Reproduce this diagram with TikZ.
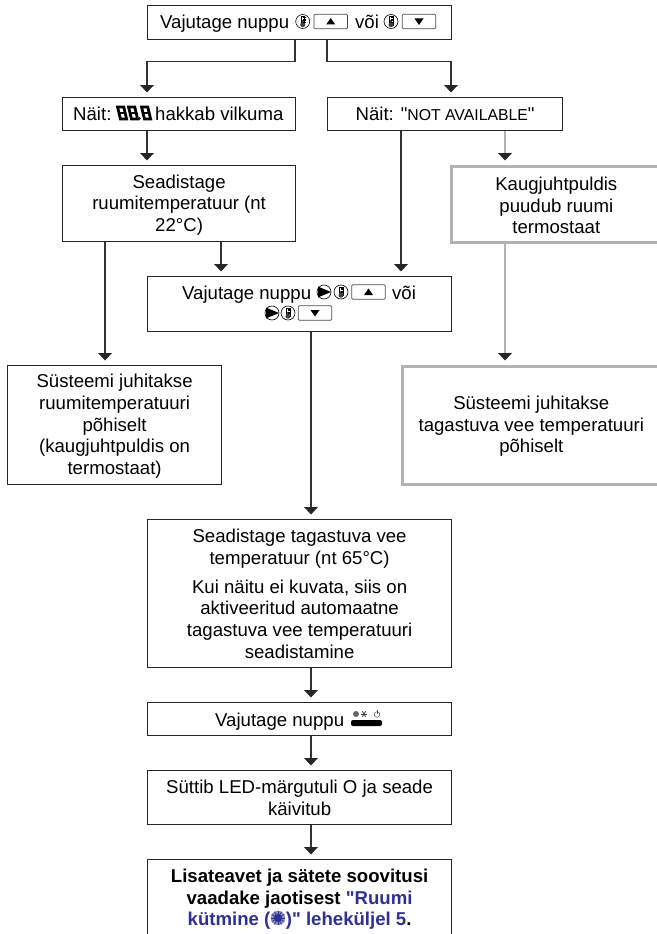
\documentclass[tikz,border=0pt]{standalone}
\usepackage{fontspec}
\setmainfont{Liberation Sans}[Ligatures=TeXOff]
\usetikzlibrary{calc,arrows.meta}
\definecolor{linkblue}{RGB}{46,49,146}
\definecolor{gbox}{RGB}{178,178,178}
\newcommand\firstdn{\rule{0pt}{16pt}}
\tikzset{
 x=1pt,y=-1pt,
 txt/.style={align=center,font=\fontsize{18.6}{21.6}\selectfont,inner sep=0pt},
 bx/.style={txt,draw=black!85,line width=1.2pt,fill=white},
 gb/.style={txt,draw=gbox,line width=2.6pt},
 flow/.style={-{Triangle[width=14pt,length=7.5pt,line width=0pt,color=black!85]},shorten >=4.5pt},
 con/.style={draw=black!80,line width=1.2pt,flow},
 gcon/.style={draw=gbox,line width=2.6pt,flow},
 pics/therm/.style={code={
   \draw[line width=.6pt,fill=white] (0,0) circle (7);
   \draw[line width=.5pt,fill=white] (-1.9,-5) rectangle (1.9,3.4);
   \fill[black!75] (-1.1,-1.2) rectangle (1.1,3.4);
   \fill[black!75] (0,3.2) circle (2.5);
   \foreach \yy in {-4,-2.6,-1.2,.2}{\draw[line width=.35pt] (0,\yy)--(2.8,\yy);}
 }},
 pics/play/.style={code={
   \draw[line width=.6pt,fill=white] (0,0) circle (7);
   \fill[black] (-6,-5.4) -- (7,0) -- (-6,5.4) -- cycle;
 }},
 pics/bup/.style={code={
   \draw[line width=.7pt,draw=black!70,rounded corners=1pt,fill=white] (-16.7,-7.2) rectangle (16.7,7.2);
   \fill[black] (-4.5,3)--(4.5,3)--(0,-3.5)--cycle;
 }},
 pics/bdn/.style={code={
   \draw[line width=.7pt,draw=black!70,rounded corners=1pt,fill=white] (-16.7,-7.2) rectangle (16.7,7.2);
   \fill[black] (-4.5,-3)--(4.5,-3)--(0,3.5)--cycle;
 }},
 pics/digit/.style={code={
   \begin{scope}[xslant=-.24]
   \draw[line width=2.8pt,black] (0,-6) rectangle (6.2,6);
   \draw[line width=2.2pt,black] (0,0)--(6.2,0);
   \end{scope}
 }},
 pics/sun/.style={code={
   \fill[linkblue!55] (0,0) circle (7.2);
   \fill[linkblue] (0,0) circle (4.2);
   \foreach \a in {0,30,...,330}{\draw[linkblue,line width=.7pt] (\a:4)--(\a:7.2);}
 }}
}
\begin{document}
\begin{tikzpicture}
\useasboundingbox (0,0) rectangle (656,934);
\fill[white] (0,0) rectangle (656,934);
% column and row references for the connectors
\coordinate (cA) at (105,0);
\coordinate (cB) at (147,0);
\coordinate (cC) at (221,0);
\coordinate (cD) at (295,0);
\coordinate (cE) at (311,0);
\coordinate (cF) at (327,0);
\coordinate (cG) at (401,0);
\coordinate (cH) at (451,0);
\coordinate (cI) at (505,0);
\coordinate (rJ) at (0,61.5);
% boxes
\node[bx,minimum width=304,minimum height=34,anchor=north west] (top) at (147,5) {};
\node[bx,minimum width=233,minimum height=33,anchor=north west] (naitA) at (62,97) {};
\node[bx,minimum width=235,minimum height=33,anchor=north west] (naitB) at (327,97) {Näit: "{\fontsize{15.8}{18}\selectfont NOT AVAILABLE}"};
\node[bx,minimum width=233,minimum height=76,anchor=north west] (seadA) at (62,165) {\firstdn Seadistage\\ruumitemperatuur (nt\\22°C)};
\node[gb,minimum width=210,minimum height=76,anchor=north west] (kaug) at (450,165) {\firstdn Kaugjuhtpuldis\\puudub ruumi\\termostaat};
\node[bx,minimum width=304,minimum height=55,anchor=north west] (vajB) at (147,276) {};
\node[bx,minimum width=214,minimum height=119,anchor=north west] (sysA) at (7,365) {\firstdn Süsteemi juhitakse\\ruumitemperatuuri\\põhiselt\\(kaugjuhtpuldis on\\termostaat)};
\node[gb,minimum width=258,minimum height=118,anchor=north west] (sysB) at (401,365) {\firstdn Süsteemi juhitakse\\tagastuva vee temperatuuri\\põhiselt};
\node[bx,minimum width=304,minimum height=148,anchor=north west] (seadB) at (147,519) {Seadistage tagastuva vee\\temperatuur (nt 65°C)\\[7.7pt]Kui näitu ei kuvata, siis on\\aktiveeritud automaatne\\tagastuva vee temperatuuri\\seadistamine};
\node[bx,minimum width=304,minimum height=33,anchor=north west] (vajC) at (147,702) {};
\node[bx,minimum width=304,minimum height=54,anchor=north west] (syt) at (147,770) {Süttib LED-märgutuli O ja seade\\käivitub};
\node[bx,minimum width=304,minimum height=77,anchor=north west,font=\fontsize{18.6}{21.6}\selectfont\bfseries] (last) at (147,859) {\firstdn Lisateavet ja sätete soovitusi\\vaadake jaotisest {\color{linkblue}"Ruumi}\\{\color{linkblue}kütmine (\hspace{15.5pt})" leheküljel 5}.};
% text and symbols inside the button boxes
\node[txt,anchor=base west] (t1) at (160,28.5) {Vajutage nuppu};
\pic at (302.7,21.5) {therm};
\pic at (330.7,21.5) {bup};
\node[txt,anchor=base] (t1b) at (367,28.5) {või};
\pic at (391,21.5) {therm};
\pic at (419,21.5) {bdn};
\node[txt,anchor=base west] (t2) at (73,120) {Näit:};
\pic at (119,113) {digit};
\pic at (130,113) {digit};
\fill[black] (139.4,118.5) circle (1.4);
\pic at (143,113) {digit};
\node[txt,anchor=base west] (t2b) at (155,120) {hakkab vilkuma};
\node[txt,anchor=base west] (t6) at (182,299) {Vajutage nuppu};
\pic at (324,292) {play};
\pic at (341,292) {therm};
\pic at (368.5,292) {bup};
\node[txt,anchor=base] (t6b) at (404,299) {või};
\pic at (272,313) {play};
\pic at (288,313) {therm};
\pic at (315,313) {bdn};
\node[txt,anchor=base west] (t10) at (215,726) {Vajutage nuppu};
\fill[black,rounded corners=2pt] (351,720) rectangle (382,726);
\fill[black!60] (356,714) circle (3);
\foreach \a in {0,60,120}{\draw[black!75,line width=.8pt] (364,714)+(\a:3.2)--+(\a+180:3.2);}
\draw[black!70,line width=.5pt] (377,714.5) circle (2.8);
\draw[black!70,line width=.5pt] (377,710)--(377,714);
\pic at (278,918) {sun};
% connectors
\draw[con] (top.south -| cD) -- (cD |- rJ) -- (cB |- rJ) -- (naitA.north -| cB);
\draw[con] (top.south -| cF) -- (cF |- rJ) -- (cH |- rJ) -- (naitB.north -| cH);
\draw[con] (naitA.south -| cB) -- (seadA.north -| cB);
\draw[gcon] (naitB.south -| cI) -- (kaug.north -| cI);
\draw[con] (seadA.south -| cC) -- (vajB.north -| cC);
\draw[con] (naitB.south -| cG) -- (vajB.north -| cG);
\draw[con] (seadA.south -| cA) -- (sysA.north -| cA);
\draw[gcon] (kaug.south -| cI) -- (sysB.north -| cI);
\draw[con] (vajB.south -| cE) -- (seadB.north -| cE);
\draw[con] (seadB.south -| cE) -- (vajC.north -| cE);
\draw[con] (vajC.south -| cE) -- (syt.north -| cE);
\draw[con] (syt.south -| cE) -- (last.north -| cE);
\end{tikzpicture}
\end{document}
